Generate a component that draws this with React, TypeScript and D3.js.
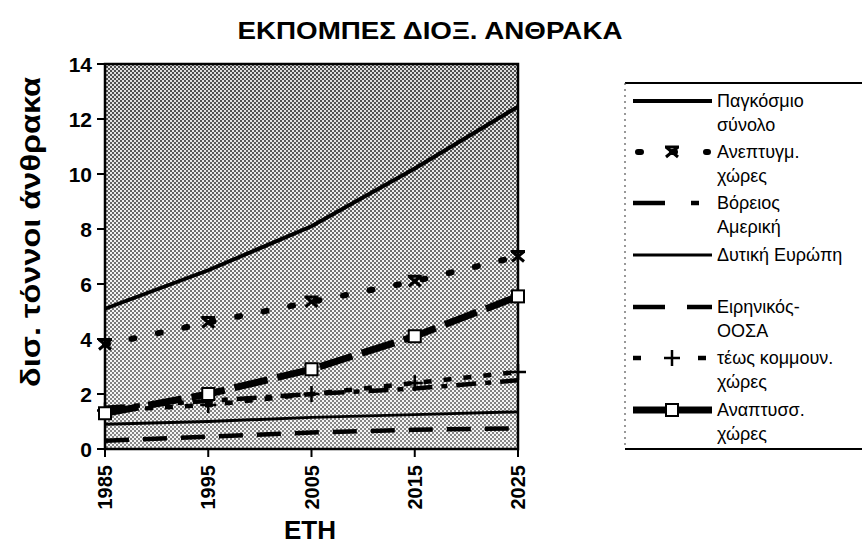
import React from 'react'
import * as d3 from 'd3'

const years = [1985, 1995, 2005, 2015, 2025]
const yTicks = [0, 2, 4, 6, 8, 10, 12, 14]

const world = [5.1, 6.5, 8.1, 10.2, 12.45]
const developed = [3.8, 4.6, 5.35, 6.1, 7.0]
const northAmerica = [1.5, 1.75, 2.0, 2.2, 2.5]
const westEurope = [0.9, 1.0, 1.15, 1.25, 1.35]
const pacificOecd = [0.3, 0.45, 0.6, 0.7, 0.75]
const exCommunist = [1.4, 1.6, 2.0, 2.4, 2.8]
const developing = [1.3, 2.0, 2.9, 4.1, 5.55]

interface Series {
  name: string[]
  values: number[]
  width: number
  dash?: string
  legendDash?: string
  cap?: 'round' | 'butt'
  marker?: 'star' | 'plus' | 'square'
}

const series: Series[] = [
  { name: ['Παγκόσμιο', 'σύνολο'], values: world, width: 4 },
  { name: ['Ανεπτυγμ.', 'χώρες'], values: developed, width: 6, dash: '3 24', legendDash: '3 31', cap: 'round', marker: 'star' },
  { name: ['Βόρειος', 'Αμερική'], values: northAmerica, width: 4.5, dash: '20 9 6 9', legendDash: '32 26 8 20' },
  { name: ['Δυτική Ευρώπη'], values: westEurope, width: 3 },
  { name: ['Ειρηνικός-', 'ΟΟΣΑ'], values: pacificOecd, width: 4.5, dash: '24 14', legendDash: '32 22' },
  { name: ['τέως κομμουν.', 'χώρες'], values: exCommunist, width: 4.5, dash: '8 12', legendDash: '8 57', marker: 'plus' },
  { name: ['Αναπτυσσ.', 'χώρες'], values: developing, width: 7, dash: '34 10', marker: 'square' },
]

const legendRows = [101, 152, 203, 255, 307, 358, 410]

const font = 'Arial, "Liberation Sans", sans-serif'

const Marker: React.FC<{ kind?: string; x: number; y: number }> = ({ kind, x, y }) => {
  if (kind === 'star')
    return (
      <path
        transform={`translate(${x},${y})`}
        d="M-6,-5L6,5M-6,5L6,-5M-7,-5L7,-5"
        stroke="black"
        strokeWidth={3}
        fill="none"
      />
    )
  if (kind === 'plus')
    return (
      <path
        transform={`translate(${x},${y})`}
        d="M-8,0L8,0M0,-8L0,8"
        stroke="black"
        strokeWidth={2.5}
        fill="none"
      />
    )
  if (kind === 'square')
    return <rect x={x - 6} y={y - 6} width={12} height={12} fill="white" stroke="black" strokeWidth={2} />
  return null
}

export default function App() {
  const left = 105
  const right = 518
  const top = 64
  const bottom = 449

  const x = d3.scaleLinear().domain([1985, 2025]).range([left, right])
  const y = d3.scaleLinear().domain([0, 14]).range([bottom, top])

  const line = d3
    .line<number>()
    .x((_, i) => x(years[i]))
    .y(d => y(d))

  return (
    <svg width={862} height={545} style={{ position: 'absolute', left: 0, top: 0, background: 'white' }}>
      <defs>
        <pattern id="dots" width={4} height={4} patternUnits="userSpaceOnUse">
          <rect width={4} height={4} fill="#f2f2f2" />
          <rect x={0} y={0} width={2} height={2} fill="#555" />
          <rect x={2} y={2} width={2} height={2} fill="#555" />
        </pattern>
        <linearGradient id="shade" x1="0" y1="0" x2="0" y2="1">
          <stop offset="0" stopColor="#000" stopOpacity={0.08} />
          <stop offset="0.45" stopColor="#fff" stopOpacity={0.15} />
          <stop offset="1" stopColor="#fff" stopOpacity={0.3} />
        </linearGradient>
      </defs>

      <text
        x={430}
        y={39}
        textAnchor="middle"
        fontFamily={font}
        fontWeight="bold"
        fontSize={24}
        textLength={385}
        lengthAdjust="spacingAndGlyphs"
      >
        ΕΚΠΟΜΠΕΣ ΔΙΟΞ. ΑΝΘΡΑΚΑ
      </text>

      <rect x={left} y={top} width={right - left} height={bottom - top} fill="url(#dots)" />
      <rect x={left} y={top} width={right - left} height={bottom - top} fill="url(#shade)" />
      <rect x={left} y={top} width={right - left} height={bottom - top} fill="none" stroke="black" strokeWidth={2.5} />

      {yTicks.map(t => (
        <g key={t}>
          <line x1={left - 8} x2={left} y1={y(t)} y2={y(t)} stroke="black" strokeWidth={2} />
          <text
            x={left - 13}
            y={y(t)}
            dy="0.36em"
            textAnchor="end"
            fontFamily={font}
            fontWeight="bold"
            fontSize={21}
          >
            {t}
          </text>
        </g>
      ))}

      {years.map(yr => (
        <g key={yr}>
          <line x1={x(yr)} x2={x(yr)} y1={bottom} y2={bottom + 8} stroke="black" strokeWidth={2} />
          <text
            transform={`translate(${x(yr)},${bottom + 16}) rotate(-90)`}
            dy="0.36em"
            textAnchor="end"
            fontFamily={font}
            fontWeight="bold"
            fontSize={20}
          >
            {yr}
          </text>
        </g>
      ))}

      <text
        transform={`translate(30,232) rotate(-90)`}
        dy="0.36em"
        textAnchor="middle"
        fontFamily={font}
        fontWeight="bold"
        fontSize={27}
        textLength={310}
        lengthAdjust="spacingAndGlyphs"
      >
        δισ. τόννοι άνθρακα
      </text>
      <text x={310} y={539} textAnchor="middle" fontFamily={font} fontWeight="bold" fontSize={26}>
        ΕΤΗ
      </text>

      {series.map((s, i) => (
        <g key={i}>
          <path
            d={line(s.values) ?? ''}
            fill="none"
            stroke="black"
            strokeWidth={s.width}
            strokeDasharray={s.dash}
            strokeLinecap={s.cap ?? 'butt'}
          />
          {s.values.map((v, j) => (
            <Marker key={j} kind={s.marker} x={x(years[j])} y={y(v)} />
          ))}
        </g>
      ))}

      <g>
        <line x1={625} x2={870} y1={83} y2={83} stroke="black" strokeWidth={2} />
        <line x1={625} x2={870} y1={449} y2={449} stroke="black" strokeWidth={2} />
        <line x1={625} x2={625} y1={83} y2={449} stroke="#555" strokeWidth={1.2} strokeDasharray="2 4" />
        {series.map((s, i) => {
          const ly = legendRows[i]
          return (
            <g key={i}>
              <line
                x1={s.cap === 'round' ? 638 : 633}
                x2={s.cap === 'round' ? 708 : 712}
                y1={ly}
                y2={ly}
                stroke="black"
                strokeWidth={s.width}
                strokeDasharray={s.legendDash}
                strokeLinecap={s.cap ?? 'butt'}
              />
              <Marker kind={s.marker} x={672} y={ly} />
              {s.name.map((n, k) => (
                <text
                  key={k}
                  x={717}
                  y={ly + k * 24}
                  dy="0.36em"
                  fontFamily={font}
                  fontSize={18}
                >
                  {n}
                </text>
              ))}
            </g>
          )
        })}
      </g>
    </svg>
  )
}
